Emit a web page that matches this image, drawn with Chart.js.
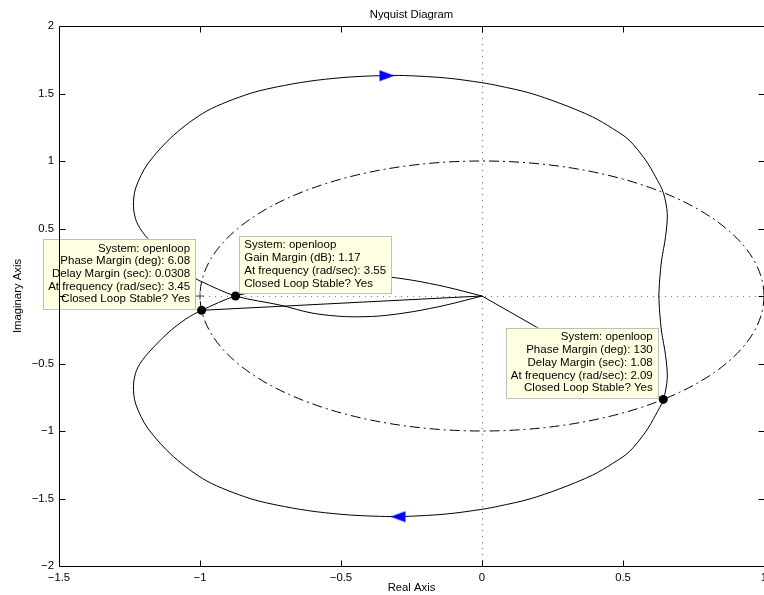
<!DOCTYPE html>
<html>
<head>
<meta charset="utf-8">
<title>Nyquist Diagram</title>
<script src="https://cdn.jsdelivr.net/npm/chart.js@4.4.1/dist/chart.umd.min.js"></script>
<style>
  html, body { margin: 0; padding: 0; overflow: hidden; background: #fff; }
  #wrap { position: relative; width: 773px; height: 595px; }
</style>
</head>
<body>
<div id="wrap"><canvas id="nyq" width="773" height="595"></canvas></div>
<script>
// Open-loop frequency response, positive frequencies (w: 0 -> inf)
const posFreqRe = [0.627, 0.630, 0.637, 0.651, 0.657, 0.643, 0.615, 0.580, 0.521, 0.462, 0.391, 0.273, 0.167, 0.061, 0.000,
  -0.127, -0.275, -0.363, -0.469, -0.587, -0.700, -0.823, -0.976, -1.094, -1.185, -1.228, -1.236, -1.225, -1.195, -1.117,
  -1.050, -0.994, -0.874, -0.717, -0.599, -0.481, -0.363, -0.245, -0.127, 0.000];
const posFreqIm = [0.000, -0.120, -0.267, -0.440, -0.610, -0.766, -0.884, -1.007, -1.156, -1.242, -1.328, -1.430, -1.505, -1.556, -1.580,
  -1.615, -1.633, -1.632, -1.622, -1.598, -1.560, -1.500, -1.370, -1.190, -0.980, -0.800, -0.665, -0.550, -0.450, -0.280,
  -0.170, -0.106, 0.000, 0.067, 0.128, 0.153, 0.148, 0.116, 0.067, 0.000];

// Negative frequencies (conjugate branch)
const negFreqRe = [0.627, 0.630, 0.637, 0.651, 0.657, 0.643, 0.615, 0.580, 0.521, 0.462, 0.391, 0.273, 0.167, 0.061, 0.000,
  -0.127, -0.275, -0.363, -0.469, -0.587, -0.700, -0.823, -0.976, -1.094, -1.185, -1.228, -1.236, -1.225, -1.195, -1.117,
  -1.050, -0.994, -0.874, -0.717, -0.599, -0.481, -0.363, -0.245, -0.127, 0.000];
const negFreqIm = [0.000, 0.120, 0.267, 0.440, 0.610, 0.766, 0.884, 1.007, 1.156, 1.242, 1.328, 1.430, 1.505, 1.556, 1.580,
  1.615, 1.633, 1.632, 1.622, 1.598, 1.560, 1.500, 1.370, 1.190, 0.980, 0.800, 0.665, 0.550, 0.450, 0.280,
  0.170, 0.106, 0.000, -0.067, -0.128, -0.153, -0.148, -0.116, -0.067, 0.000];

// Direction arrows along the curve
const arrowRe = [-0.337, -0.298];
const arrowIm = [1.632, -1.635];
const arrowAngle = [0, 180];

// Stability margins reported by the data tips
const phaseMarginDeg = [6.08, 130];
const delayMarginSec = [0.0308, 1.08];
const phaseMarginFreq = [3.45, 2.09];
const gainMarginDb = [1.17];
const gainMarginFreq = [3.55];
const systemName = 'openloop';
const closedLoopStable = 'Yes';

// Axis ticks
const xTickValues = [-1.5, -1, -0.5, 0, 0.5, 1];
const yTickValues = [-2, -1.5, -1, -0.5, 0, 0.5, 1, 1.5, 2];

const FONT = "'Liberation Sans', Arial, Helvetica, sans-serif";
const AXIS_FONT_SIZE = 11.3;
const TIP_FONT_SIZE = 11.5;

// Margin marker positions follow from the margin values
const pmPoints = phaseMarginDeg.map(pm => {
  const th = (-180 + pm) * Math.PI / 180;
  return { x: Math.cos(th), y: Math.sin(th) };
});
const gmPoints = gainMarginDb.map(g => ({ x: -Math.pow(10, -g / 20), y: 0 }));

const toXY = (re, im) => re.map((r, i) => ({ x: r, y: im[i] }));

// Arrow head sprite
function arrowSprite() {
  const c = document.createElement('canvas');
  c.width = 16; c.height = 12;
  const g = c.getContext('2d');
  g.fillStyle = '#0000ff';
  g.beginPath();
  g.moveTo(0.5, 0.5); g.lineTo(15.5, 6); g.lineTo(0.5, 11.5);
  g.closePath(); g.fill();
  return c;
}
const arrowImg = arrowSprite();

const fmtTick = v => (v < 0 ? '\u2212' : '') + String(Math.abs(v));

const tipBoxes = [
  { px: pmPoints[0].x, py: pmPoints[0].y, side: 'left', dx: -6.5, dy: -1.5,
    lines: ['System: ' + systemName,
            'Phase Margin (deg): ' + phaseMarginDeg[0],
            'Delay Margin (sec): ' + delayMarginSec[0],
            'At frequency (rad/sec): ' + phaseMarginFreq[0],
            'Closed Loop Stable? ' + closedLoopStable] },
  { px: gmPoints[0].x, py: gmPoints[0].y, side: 'right', dx: 3.7, dy: -3,
    lines: ['System: ' + systemName,
            'Gain Margin (dB): ' + gainMarginDb[0],
            'At frequency (rad/sec): ' + gainMarginFreq[0],
            'Closed Loop Stable? ' + closedLoopStable] },
  { px: pmPoints[1].x, py: pmPoints[1].y, side: 'left', dx: -5.5, dy: -1.7,
    lines: ['System: ' + systemName,
            'Phase Margin (deg): ' + phaseMarginDeg[1],
            'Delay Margin (sec): ' + delayMarginSec[1],
            'At frequency (rad/sec): ' + phaseMarginFreq[1],
            'Closed Loop Stable? ' + closedLoopStable] }
];

// Dotted zero lines and dash-dot unit circle under the curves
const backgroundPlugin = {
  id: 'nyqBackground',
  beforeDatasetsDraw(chart) {
    const { ctx, chartArea: a, scales: { x, y } } = chart;
    ctx.save();
    ctx.beginPath();
    ctx.rect(a.left, a.top, a.right - a.left, a.bottom - a.top);
    ctx.clip();
    // zero lines
    ctx.strokeStyle = '#7a7a7a';
    ctx.lineWidth = 1;
    ctx.setLineDash([1, 5]);
    const x0 = Math.round(x.getPixelForValue(0)) + 0.5;
    const y0 = Math.round(y.getPixelForValue(0)) + 0.5;
    ctx.beginPath();
    ctx.moveTo(x0, a.top); ctx.lineTo(x0, a.bottom);
    ctx.moveTo(a.left, y0); ctx.lineTo(a.right, y0);
    ctx.stroke();
    // unit circle
    const cx = x.getPixelForValue(0), cy = y.getPixelForValue(0);
    const rx = x.getPixelForValue(1) - cx, ry = cy - y.getPixelForValue(1);
    ctx.strokeStyle = '#000';
    ctx.setLineDash([10, 4, 2, 4]);
    ctx.beginPath();
    ctx.ellipse(cx, cy, rx, ry, 0, 0, Math.PI * 2);
    ctx.stroke();
    ctx.restore();
  }
};

// Data tip boxes drawn just before the margin markers
const tipPlugin = {
  id: 'nyqTips',
  beforeDatasetDraw(chart, args) {
    if (args.index !== 0) return;
    const { ctx, scales: { x, y } } = chart;
    ctx.save();
    ctx.font = TIP_FONT_SIZE + 'px ' + FONT;
    const lineH = 12.7, padX = 5, padY = 3.3;
    tipBoxes.forEach(b => {
      const ax = x.getPixelForValue(b.px), ay = y.getPixelForValue(b.py);
      const w = Math.max(...b.lines.map(l => ctx.measureText(l).width)) + padX * 2;
      const h = b.lines.length * lineH + padY * 2;
      const left = b.side === 'left' ? ax + b.dx - w : ax + b.dx;
      const top = ay + b.dy - h;
      ctx.fillStyle = '#ffffe1';
      ctx.strokeStyle = '#bdbdbd';
      ctx.lineWidth = 1;
      ctx.fillRect(left, top, w, h);
      ctx.strokeRect(Math.round(left) + 0.5, Math.round(top) + 0.5, Math.round(w), Math.round(h));
      ctx.fillStyle = '#000';
      ctx.textBaseline = 'middle';
      ctx.textAlign = b.side === 'left' ? 'right' : 'left';
      const tx = b.side === 'left' ? left + w - padX : left + padX;
      b.lines.forEach((l, i) => ctx.fillText(l, tx, top + padY + lineH * (i + 0.5)));
    });
    ctx.restore();
  }
};

// Axes box with inward tick marks on all four sides
const framePlugin = {
  id: 'nyqFrame',
  afterDraw(chart) {
    const { ctx, chartArea: a, scales: { x, y } } = chart;
    const L = Math.round(a.left) + 0.5, R = Math.round(a.right) + 0.5;
    const T = Math.round(a.top) + 0.5, B = Math.round(a.bottom) + 0.5;
    const tl = 6;
    ctx.save();
    ctx.strokeStyle = '#000';
    ctx.lineWidth = 1;
    ctx.beginPath();
    ctx.rect(L, T, R - L, B - T);
    x.ticks.forEach(t => {
      const px = Math.round(x.getPixelForValue(t.value)) + 0.5;
      ctx.moveTo(px, B); ctx.lineTo(px, B - tl);
      ctx.moveTo(px, T); ctx.lineTo(px, T + tl);
    });
    y.ticks.forEach(t => {
      const py = Math.round(y.getPixelForValue(t.value)) + 0.5;
      ctx.moveTo(L, py); ctx.lineTo(L + tl, py);
      ctx.moveTo(R, py); ctx.lineTo(R - tl, py);
    });
    ctx.stroke();
    ctx.restore();
  }
};

Chart.defaults.font.family = FONT;
Chart.defaults.color = '#000';

new Chart(document.getElementById('nyq'), {
  type: 'scatter',
  data: {
    datasets: [
      { // margin markers (drawn on top)
        label: 'margins',
        data: [...pmPoints, ...gmPoints],
        pointRadius: 4.5, pointBackgroundColor: '#000', pointBorderColor: '#000', pointBorderWidth: 0,
        showLine: false
      },
      { // critical point
        label: 'critical',
        data: [{ x: -1, y: 0 }],
        pointStyle: 'cross', pointRadius: 4, pointBorderColor: '#555', pointBorderWidth: 1,
        showLine: false
      },
      { // arrows
        label: 'arrows',
        data: toXY(arrowRe, arrowIm),
        pointStyle: arrowImg, rotation: arrowAngle, pointRadius: 8,
        showLine: false
      },
      { // phase margin rays
        label: 'pm1',
        data: [{ x: 0, y: 0 }, pmPoints[0]],
        showLine: true, borderColor: '#000', borderWidth: 1, pointRadius: 0
      },
      {
        label: 'pm2',
        data: [{ x: 0, y: 0 }, pmPoints[1]],
        showLine: true, borderColor: '#000', borderWidth: 1, pointRadius: 0
      },
      {
        label: 'positive frequencies',
        data: toXY(posFreqRe, posFreqIm),
        showLine: true, borderColor: '#000', borderWidth: 1, pointRadius: 0, tension: 0.3
      },
      {
        label: 'negative frequencies',
        data: toXY(negFreqRe, negFreqIm),
        showLine: true, borderColor: '#000', borderWidth: 1, pointRadius: 0, tension: 0.3
      }
    ]
  },
  options: {
    responsive: false,
    animation: false,
    devicePixelRatio: 1,
    layout: { padding: 0 },
    plugins: {
      legend: { display: false },
      tooltip: { enabled: false },
      title: { display: false }
    },
    scales: {
      // top axis only carries the diagram title, centred over the plot box
      top: {
        type: 'linear', position: 'top', min: -1.5, max: 1,
        afterFit: s => { s.height = 26; },
        grid: { display: false, drawTicks: false },
        border: { display: false },
        ticks: { display: false },
        title: { display: true, text: 'Nyquist Diagram', font: { size: AXIS_FONT_SIZE }, padding: { top: 8, bottom: 0 } }
      },
      x: {
        type: 'linear', position: 'bottom', min: -1.5, max: 1,
        afterBuildTicks: s => { s.ticks = xTickValues.map(v => ({ value: v })); },
        afterFit: s => { s.height = 29; },
        grid: { display: false, drawTicks: false },
        border: { display: false },
        ticks: { callback: fmtTick, padding: 5, font: { size: AXIS_FONT_SIZE }, maxRotation: 0, autoSkip: false },
        title: { display: true, text: 'Real Axis', font: { size: AXIS_FONT_SIZE }, padding: { top: 0, bottom: 0 } }
      },
      y: {
        type: 'linear', position: 'left', min: -2, max: 2,
        afterBuildTicks: s => { s.ticks = yTickValues.map(v => ({ value: v })); },
        afterFit: s => { s.width = 59; },
        grid: { display: false, drawTicks: false },
        border: { display: false },
        ticks: { callback: fmtTick, padding: 5, font: { size: AXIS_FONT_SIZE }, autoSkip: false },
        title: { display: true, text: 'Imaginary Axis', font: { size: AXIS_FONT_SIZE }, padding: { top: 11, bottom: 0 } }
      }
    }
  },
  plugins: [backgroundPlugin, tipPlugin, framePlugin]
});
</script>
</body>
</html>
